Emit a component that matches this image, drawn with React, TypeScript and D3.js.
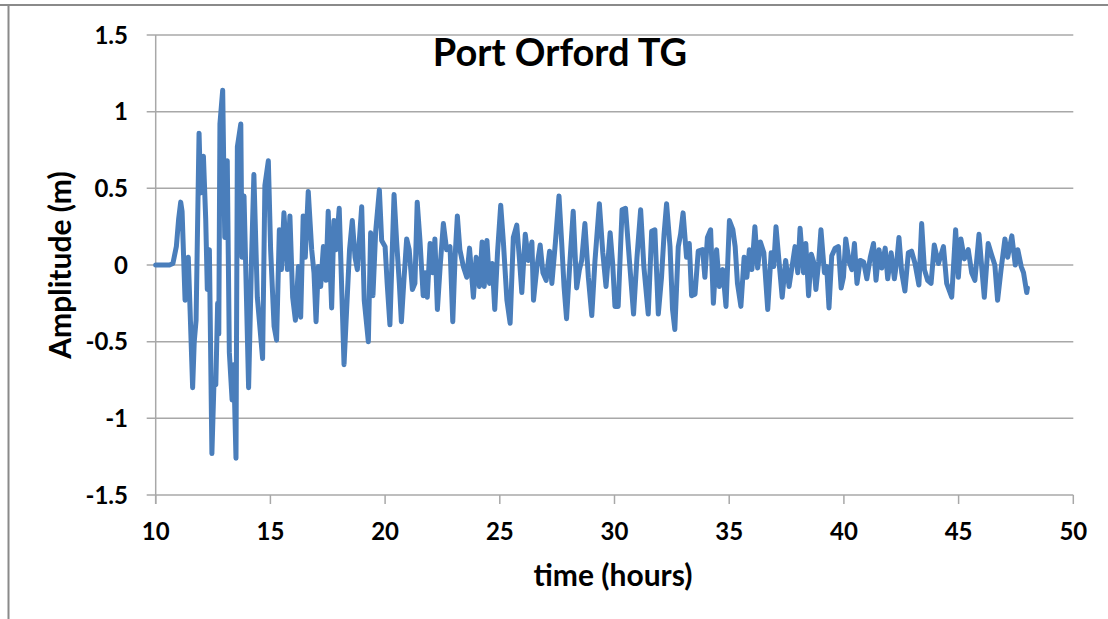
import * as d3 from "d3";

// Port Orford tide gauge record (turning points)
const hours = [
  10.0, 10.3, 10.6, 10.75, 10.9, 11.0, 11.09, 11.15, 11.28, 11.42, 11.5, 11.61, 11.68, 11.76, 11.89, 11.96,
  12.08, 12.18, 12.25, 12.34, 12.45, 12.54, 12.62, 12.7, 12.75, 12.8, 12.92, 13.01, 13.12, 13.21, 13.33, 13.4,
  13.5, 13.56, 13.71, 13.76, 13.85, 14.05, 14.18, 14.28, 14.43, 14.66, 14.76, 14.91, 15.01, 15.16, 15.27, 15.39,
  15.48, 15.59, 15.74, 15.85, 15.97, 16.09, 16.22, 16.32, 16.43, 16.52, 16.65, 16.8, 16.9, 16.99, 17.09, 17.19,
  17.31, 17.42, 17.52, 17.67, 17.77, 17.86, 18.0, 18.11, 18.21, 18.33, 18.45, 18.57, 18.69, 18.79, 18.98, 19.09,
  19.27, 19.37, 19.47, 19.59, 19.75, 19.85, 20.0, 20.09, 20.21, 20.39, 20.5, 20.62, 20.71, 20.82, 20.94, 21.05,
  21.19, 21.3, 21.4, 21.52, 21.66, 21.75, 21.84, 21.96, 22.08, 22.17, 22.28, 22.4, 22.54, 22.68, 22.83, 22.95,
  23.05, 23.15, 23.26, 23.41, 23.56, 23.68, 23.85, 23.97, 24.11, 24.23, 24.32, 24.44, 24.55, 24.67, 24.78, 24.9,
  25.04, 25.16, 25.31, 25.45, 25.59, 25.74, 25.86, 25.96, 26.11, 26.25, 26.4, 26.47, 26.62, 26.76, 26.88, 27.02,
  27.17, 27.27, 27.42, 27.58, 27.7, 27.8, 27.91, 28.06, 28.2, 28.35, 28.47, 28.57, 28.71, 28.86, 29.01, 29.15,
  29.34, 29.49, 29.63, 29.81, 29.92, 30.02, 30.16, 30.33, 30.48, 30.65, 30.83, 30.98, 31.14, 31.28, 31.47, 31.62,
  31.76, 31.91, 32.05, 32.16, 32.27, 32.42, 32.53, 32.63, 32.78, 32.88, 32.99, 33.14, 33.26, 33.36, 33.51, 33.65,
  33.84, 33.94, 34.05, 34.19, 34.31, 34.45, 34.57, 34.72, 34.86, 35.01, 35.16, 35.26, 35.36, 35.51, 35.65, 35.77,
  35.88, 35.99, 36.12, 36.24, 36.36, 36.51, 36.68, 36.83, 36.94, 37.04, 37.15, 37.31, 37.46, 37.61, 37.75, 37.87,
  37.99, 38.09, 38.24, 38.34, 38.46, 38.58, 38.68, 38.78, 38.9, 39.0, 39.15, 39.25, 39.35, 39.47, 39.62, 39.76,
  39.88, 39.98, 40.08, 40.23, 40.35, 40.46, 40.57, 40.71, 40.86, 41.0, 41.15, 41.29, 41.4, 41.53, 41.65, 41.8,
  41.91, 42.06, 42.2, 42.31, 42.4, 42.52, 42.66, 42.81, 42.95, 43.1, 43.27, 43.39, 43.51, 43.65, 43.8, 43.94,
  44.12, 44.34, 44.48, 44.7, 44.87, 44.99, 45.1, 45.25, 45.42, 45.57, 45.71, 45.89, 46.0, 46.12, 46.29, 46.43,
  46.58, 46.7, 46.85, 47.02, 47.14, 47.32, 47.47, 47.58, 47.73, 47.83, 47.97, 48.0,
];

const amplitude = [
  0, 0, 0, 0.01, 0.12, 0.3, 0.41, 0.35, -0.23, 0.05, -0.3, -0.8, -0.5, -0.36, 0.86, 0.47,
  0.71, 0.3, -0.16, 0.1, -1.23, -0.77, -0.78, -0.25, -0.45, 0.92, 1.14, 0.18, 0.68, -0.57, -0.88, -0.65,
  -1.26, 0.77, 0.92, 0.05, 0.45, -0.8, 0.05, 0.59, -0.21, -0.61, 0.52, 0.68, 0.1, -0.4, -0.49, 0.23,
  -0.03, 0.34, -0.03, 0.32, -0.21, -0.36, -0.01, -0.34, 0.32, 0.05, 0.48, 0.1, -0.05, -0.37, -0.01, -0.14,
  0.12, -0.1, 0.35, -0.28, 0.29, 0.1, 0.37, -0.16, -0.65, -0.27, 0.1, 0.29, 0.05, -0.03, 0.38, -0.23,
  -0.5, 0.21, -0.2, 0.22, 0.49, 0.16, 0.12, -0.12, -0.39, 0.46, 0.16, -0.12, -0.37, -0.1, 0.17, 0.1,
  -0.16, -0.12, 0.41, 0.16, -0.2, -0.05, -0.21, 0.14, -0.05, 0.17, -0.29, -0.01, 0.27, 0.1, 0.12, -0.37,
  0.05, 0.32, 0.1, -0.01, -0.08, 0.11, -0.21, 0.05, -0.14, 0.15, -0.14, 0.16, -0.12, 0.01, -0.29, 0.08,
  0.39, 0.14, -0.23, -0.38, 0.18, 0.26, 0.03, -0.18, 0.2, 0.03, 0.15, -0.23, -0.01, 0.13, -0.05, -0.1,
  0.09, -0.12, 0.14, 0.45, 0.14, -0.14, -0.35, 0.03, 0.35, -0.15, -0.03, 0.03, 0.27, -0.08, -0.33, 0.03,
  0.4, 0.08, -0.14, 0.21, 0.01, -0.27, -0.27, 0.36, 0.37, 0.03, -0.32, 0.05, 0.36, -0.01, -0.32, 0.22,
  0.23, -0.32, -0.08, 0.2, 0.4, 0.12, -0.29, -0.42, 0.12, 0.2, 0.34, 0.05, 0.14, -0.2, -0.19, 0.09,
  0.1, -0.08, 0.18, 0.23, -0.25, 0.1, -0.14, -0.03, -0.27, 0.29, 0.23, 0.12, -0.12, -0.27, 0.05, -0.08,
  0.1, -0.03, 0.25, -0.02, 0.15, 0.08, -0.29, 0.08, -0.01, 0.25, 0.06, -0.21, 0.03, -0.14, 0.0, 0.12,
  -0.05, 0.24, -0.05, 0.14, -0.2, 0.07, 0.02, -0.16, 0.02, 0.23, -0.05, -0.01, -0.28, 0.06, 0.11, 0.12,
  -0.15, -0.08, 0.17, 0.02, -0.03, 0.14, -0.12, 0.03, 0.02, -0.09, 0.05, 0.14, -0.1, 0.1, -0.02, 0.11,
  -0.09, 0.08, -0.09, 0.03, 0.18, -0.05, -0.17, 0.08, 0.09, 0.01, -0.13, 0.27, -0.03, -0.1, -0.12, 0.13,
  0.01, 0.12, -0.12, -0.21, 0.23, -0.08, 0.17, 0.04, 0.1, -0.05, -0.1, 0.2, 0.0, -0.21, 0.14, 0.07,
  0.0, -0.23, -0.03, 0.17, 0.05, 0.19, 0.0, 0.1, -0.01, -0.05, -0.18, -0.15,
];

const xTicks = [10, 15, 20, 25, 30, 35, 40, 45, 50];
const yTicks = [-1.5, -1, -0.5, 0, 0.5, 1, 1.5];

const W = 1108;
const H = 619;
const FONT = "Lato, 'Open Sans', sans-serif";

export default function App() {
  const x = d3.scaleLinear().domain([10, 50]).range([155.7, 1073.3]);
  const y = d3.scaleLinear().domain([-1.5, 1.5]).range([495, 35]);

  const points = hours.map((h, i) => [h, amplitude[i]] as [number, number]);
  const line = d3
    .line<[number, number]>()
    .x((d) => x(d[0]))
    .y((d) => y(d[1]));

  const [x0, x1] = x.range();
  const [yb, yt] = y.range();

  return (
    <svg
      width={W}
      height={H}
      style={{ position: "absolute", left: 0, top: 0, background: "#fff" }}
      fontFamily={FONT}
    >
      {/* outer frame of the screenshot */}
      <line x1={0} x2={W} y1={5} y2={5} stroke="#8a8a8a" strokeWidth={2} />
      <line x1={8.5} x2={8.5} y1={5} y2={H} stroke="#8a8a8a" strokeWidth={2} />

      {/* gridlines + y ticks */}
      {yTicks.map((t) => (
        <line key={"g" + t} x1={x0 - 9} x2={x1} y1={y(t)} y2={y(t)} stroke="#a8a8a8" strokeWidth={1.5} />
      ))}
      {/* y axis */}
      <line x1={x0} x2={x0} y1={yt} y2={yb + 9} stroke="#a8a8a8" strokeWidth={1.5} />
      {/* x ticks */}
      {xTicks.map((t) => (
        <line key={"xt" + t} x1={x(t)} x2={x(t)} y1={yb} y2={yb + 9} stroke="#a8a8a8" strokeWidth={1.5} />
      ))}

      {yTicks.map((t) => (
        <text key={"yl" + t} x={128} y={y(t) + 8.5} textAnchor="end" fontSize={24} fontWeight={700} fill="#000">
          {String(t)}
        </text>
      ))}
      {xTicks.map((t) => (
        <text key={"xl" + t} x={x(t)} y={540} textAnchor="middle" fontSize={24} fontWeight={700} fill="#000">
          {String(t)}
        </text>
      ))}

      <path
        d={line(points) ?? ""}
        fill="none"
        stroke="#4a7ebb"
        strokeWidth={5}
        strokeLinejoin="round"
        strokeLinecap="round"
      />

      <text x={560} y={66} textAnchor="middle" fontSize={38} fontWeight={700} fill="#000">
        Port Orford TG
      </text>
      <text
        transform={`translate(71,${265}) rotate(-90)`}
        textAnchor="middle"
        fontSize={30}
        fontWeight={700}
        fill="#000"
      >
        Amplitude (m)
      </text>
      <text x={613} y={586} textAnchor="middle" fontSize={30} fontWeight={700} fill="#000">
        time (hours)
      </text>
    </svg>
  );
}
